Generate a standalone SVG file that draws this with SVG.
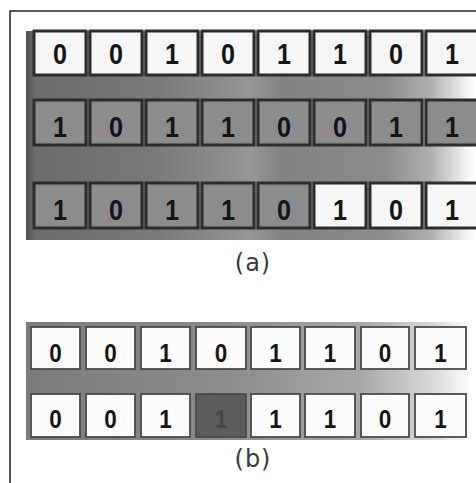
<svg xmlns="http://www.w3.org/2000/svg" width="476" height="483" viewBox="0 0 476 483">
  <defs>
    <linearGradient id="bandA" x1="26" y1="0" x2="476" y2="0" gradientUnits="userSpaceOnUse">
      <stop offset="0" stop-color="#4e4e4e"/>
      <stop offset="0.02" stop-color="#6c6c6c"/>
      <stop offset="0.3" stop-color="#7a7a7a"/>
      <stop offset="0.5" stop-color="#969696"/>
      <stop offset="0.57" stop-color="#828282"/>
      <stop offset="0.8" stop-color="#8c8c8c"/>
      <stop offset="0.9" stop-color="#b0b0b0"/>
      <stop offset="0.98" stop-color="#f4f4f4"/>
      <stop offset="1" stop-color="#ffffff"/>
    </linearGradient>
    <linearGradient id="bandB" x1="26" y1="0" x2="472" y2="0" gradientUnits="userSpaceOnUse">
      <stop offset="0" stop-color="#7c7c7c"/>
      <stop offset="0.45" stop-color="#8c8c8c"/>
      <stop offset="0.75" stop-color="#a8a8a8"/>
      <stop offset="0.92" stop-color="#dcdcdc"/>
      <stop offset="1" stop-color="#ffffff"/>
    </linearGradient>
  </defs>
  <style>
    .frame { fill: none; stroke: #222; stroke-width: 1.5; }
    .ca { stroke: #2c2c2c; stroke-width: 3; }
    .cb { stroke: #4a4a4a; stroke-width: 1.8; fill: #fbfbfb; }
    .w { fill: #f6f6f6; }
    .g { fill: #8c8c8c; }
    .d { fill: #5c5c5c; }
    .dig { font-family: "Liberation Sans", Arial, sans-serif; font-weight: bold; fill: #151515; text-anchor: middle; }
    .da { font-size: 29px; }
    .db { font-size: 25.5px; }
    .dig.faint { fill: #474747; }
    .lbl { font-family: "DejaVu Sans", sans-serif; font-size: 24px; fill: #3a3a3a; text-anchor: middle; letter-spacing: 1px; }
  </style>

  <rect width="476" height="483" fill="#ffffff"/>
  <!-- outer frame: top and left rules -->
  <path class="frame" d="M10 483 V11 H476"/>

  <!-- panel (a) -->
  <g id="panel-a">
    <rect x="26" y="31" width="450" height="209" fill="url(#bandA)"/>
    <g id="a-row1">
      <g id="a1-0"><rect class="ca w" x="34" y="31" width="52" height="44"/><text class="dig da" x="60" y="64" textLength="14" lengthAdjust="spacingAndGlyphs">0</text></g>
      <g id="a1-1"><rect class="ca w" x="90" y="31" width="52" height="44"/><text class="dig da" x="116" y="64" textLength="14" lengthAdjust="spacingAndGlyphs">0</text></g>
      <g id="a1-2"><rect class="ca w" x="146" y="31" width="52" height="44"/><text class="dig da" x="172" y="64" textLength="14" lengthAdjust="spacingAndGlyphs">1</text></g>
      <g id="a1-3"><rect class="ca w" x="202" y="31" width="52" height="44"/><text class="dig da" x="228" y="64" textLength="14" lengthAdjust="spacingAndGlyphs">0</text></g>
      <g id="a1-4"><rect class="ca w" x="258" y="31" width="52" height="44"/><text class="dig da" x="284" y="64" textLength="14" lengthAdjust="spacingAndGlyphs">1</text></g>
      <g id="a1-5"><rect class="ca w" x="314" y="31" width="52" height="44"/><text class="dig da" x="340" y="64" textLength="14" lengthAdjust="spacingAndGlyphs">1</text></g>
      <g id="a1-6"><rect class="ca w" x="370" y="31" width="52" height="44"/><text class="dig da" x="396" y="64" textLength="14" lengthAdjust="spacingAndGlyphs">0</text></g>
      <g id="a1-7"><rect class="ca w" x="426" y="31" width="52" height="44"/><text class="dig da" x="452" y="64" textLength="14" lengthAdjust="spacingAndGlyphs">1</text></g>
    </g>
    <g id="a-row2">
      <g id="a2-0"><rect class="ca g" x="34" y="100" width="52" height="45"/><text class="dig da" x="60" y="137" textLength="14" lengthAdjust="spacingAndGlyphs">1</text></g>
      <g id="a2-1"><rect class="ca g" x="90" y="100" width="52" height="45"/><text class="dig da" x="116" y="137" textLength="14" lengthAdjust="spacingAndGlyphs">0</text></g>
      <g id="a2-2"><rect class="ca g" x="146" y="100" width="52" height="45"/><text class="dig da" x="172" y="137" textLength="14" lengthAdjust="spacingAndGlyphs">1</text></g>
      <g id="a2-3"><rect class="ca g" x="202" y="100" width="52" height="45"/><text class="dig da" x="228" y="137" textLength="14" lengthAdjust="spacingAndGlyphs">1</text></g>
      <g id="a2-4"><rect class="ca g" x="258" y="100" width="52" height="45"/><text class="dig da" x="284" y="137" textLength="14" lengthAdjust="spacingAndGlyphs">0</text></g>
      <g id="a2-5"><rect class="ca g" x="314" y="100" width="52" height="45"/><text class="dig da" x="340" y="137" textLength="14" lengthAdjust="spacingAndGlyphs">0</text></g>
      <g id="a2-6"><rect class="ca g" x="370" y="100" width="52" height="45"/><text class="dig da" x="396" y="137" textLength="14" lengthAdjust="spacingAndGlyphs">1</text></g>
      <g id="a2-7"><rect class="ca g" x="426" y="100" width="52" height="45"/><text class="dig da" x="452" y="137" textLength="14" lengthAdjust="spacingAndGlyphs">1</text></g>
    </g>
    <g id="a-row3">
      <g id="a3-0"><rect class="ca g" x="34" y="183" width="52" height="45"/><text class="dig da" x="60" y="220" textLength="14" lengthAdjust="spacingAndGlyphs">1</text></g>
      <g id="a3-1"><rect class="ca g" x="90" y="183" width="52" height="45"/><text class="dig da" x="116" y="220" textLength="14" lengthAdjust="spacingAndGlyphs">0</text></g>
      <g id="a3-2"><rect class="ca g" x="146" y="183" width="52" height="45"/><text class="dig da" x="172" y="220" textLength="14" lengthAdjust="spacingAndGlyphs">1</text></g>
      <g id="a3-3"><rect class="ca g" x="202" y="183" width="52" height="45"/><text class="dig da" x="228" y="220" textLength="14" lengthAdjust="spacingAndGlyphs">1</text></g>
      <g id="a3-4"><rect class="ca g" x="258" y="183" width="52" height="45"/><text class="dig da" x="284" y="220" textLength="14" lengthAdjust="spacingAndGlyphs">0</text></g>
      <g id="a3-5"><rect class="ca w" x="314" y="183" width="52" height="45"/><text class="dig da" x="340" y="220" textLength="14" lengthAdjust="spacingAndGlyphs">1</text></g>
      <g id="a3-6"><rect class="ca w" x="370" y="183" width="52" height="45"/><text class="dig da" x="396" y="220" textLength="14" lengthAdjust="spacingAndGlyphs">0</text></g>
      <g id="a3-7"><rect class="ca w" x="426" y="183" width="52" height="45"/><text class="dig da" x="452" y="220" textLength="14" lengthAdjust="spacingAndGlyphs">1</text></g>
    </g>
    <text class="lbl" x="253" y="271">(a)</text>
  </g>

  <!-- panel (b) -->
  <g id="panel-b">
    <rect x="26" y="322" width="446" height="118" fill="url(#bandB)"/>
    <g id="b-row1">
      <g id="b1-0"><rect class="cb" x="31" y="327" width="49" height="42"/><text class="dig db" x="55.5" y="362" textLength="12.5" lengthAdjust="spacingAndGlyphs">0</text></g>
      <g id="b1-1"><rect class="cb" x="86" y="327" width="49" height="42"/><text class="dig db" x="110.5" y="362" textLength="12.5" lengthAdjust="spacingAndGlyphs">0</text></g>
      <g id="b1-2"><rect class="cb" x="141" y="327" width="49" height="42"/><text class="dig db" x="165.5" y="362" textLength="12.5" lengthAdjust="spacingAndGlyphs">1</text></g>
      <g id="b1-3"><rect class="cb" x="196" y="327" width="50" height="42"/><text class="dig db" x="221" y="362" textLength="12.5" lengthAdjust="spacingAndGlyphs">0</text></g>
      <g id="b1-4"><rect class="cb" x="251" y="327" width="49" height="42"/><text class="dig db" x="275.5" y="362" textLength="12.5" lengthAdjust="spacingAndGlyphs">1</text></g>
      <g id="b1-5"><rect class="cb" x="305" y="327" width="50" height="42"/><text class="dig db" x="330" y="362" textLength="12.5" lengthAdjust="spacingAndGlyphs">1</text></g>
      <g id="b1-6"><rect class="cb" x="361" y="327" width="48" height="42"/><text class="dig db" x="385" y="362" textLength="12.5" lengthAdjust="spacingAndGlyphs">0</text></g>
      <g id="b1-7"><rect class="cb" x="415" y="327" width="51" height="42"/><text class="dig db" x="440.5" y="362" textLength="12.5" lengthAdjust="spacingAndGlyphs">1</text></g>
    </g>
    <g id="b-row2">
      <g id="b2-0"><rect class="cb" x="31" y="394" width="49" height="43"/><text class="dig db" x="55.5" y="428" textLength="12.5" lengthAdjust="spacingAndGlyphs">0</text></g>
      <g id="b2-1"><rect class="cb" x="86" y="394" width="49" height="43"/><text class="dig db" x="110.5" y="428" textLength="12.5" lengthAdjust="spacingAndGlyphs">0</text></g>
      <g id="b2-2"><rect class="cb" x="141" y="394" width="49" height="43"/><text class="dig db" x="165.5" y="428" textLength="12.5" lengthAdjust="spacingAndGlyphs">1</text></g>
      <g id="b2-3"><rect class="cb d" x="196" y="394" width="50" height="43"/><text class="dig db faint" x="221" y="428" textLength="12.5" lengthAdjust="spacingAndGlyphs">1</text></g>
      <g id="b2-4"><rect class="cb" x="251" y="394" width="49" height="43"/><text class="dig db" x="275.5" y="428" textLength="12.5" lengthAdjust="spacingAndGlyphs">1</text></g>
      <g id="b2-5"><rect class="cb" x="305" y="394" width="50" height="43"/><text class="dig db" x="330" y="428" textLength="12.5" lengthAdjust="spacingAndGlyphs">1</text></g>
      <g id="b2-6"><rect class="cb" x="361" y="394" width="48" height="43"/><text class="dig db" x="385" y="428" textLength="12.5" lengthAdjust="spacingAndGlyphs">0</text></g>
      <g id="b2-7"><rect class="cb" x="415" y="394" width="51" height="43"/><text class="dig db" x="440.5" y="428" textLength="12.5" lengthAdjust="spacingAndGlyphs">1</text></g>
    </g>
    <text class="lbl" x="253" y="467">(b)</text>
  </g>
</svg>
